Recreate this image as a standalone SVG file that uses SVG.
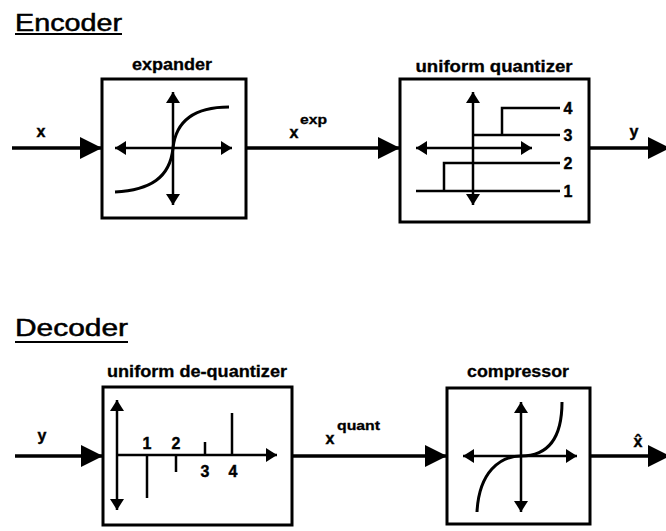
<svg xmlns="http://www.w3.org/2000/svg" width="666" height="531" viewBox="0 0 666 531">
<style>
.box{fill:none;stroke:#000;stroke-width:3}
.conn{fill:none;stroke:#000;stroke-width:3.5}
.ax{fill:none;stroke:#000;stroke-width:2.5}
.cv{fill:none;stroke:#000;stroke-width:3}
.lbl{font-family:"Liberation Sans",Arial,sans-serif;font-weight:bold;font-size:16px;text-anchor:middle;stroke:#000;stroke-width:0.3}
.sym{font-family:"Liberation Sans",Arial,sans-serif;font-weight:bold;font-size:16px;text-anchor:middle;stroke:#000;stroke-width:0.4}
.sup{font-family:"Liberation Sans",Arial,sans-serif;font-weight:bold;font-size:13px;stroke:#000;stroke-width:0.3}
.title{font-family:"Liberation Sans",Arial,sans-serif;font-size:23px;stroke:#000;stroke-width:0.5}
</style>
<defs>
<marker id="big" viewBox="0 0 22 22" refX="22" refY="11" markerWidth="22" markerHeight="22" markerUnits="userSpaceOnUse" orient="auto"><path d="M0,0 L22,11 L0,22 z" fill="#000"/></marker>
<marker id="sm" viewBox="0 0 11 14" refX="11" refY="7" markerWidth="11" markerHeight="14" markerUnits="userSpaceOnUse" orient="auto-start-reverse"><path d="M0,0 L11,7 L0,14 z" fill="#000"/></marker>
</defs>
<rect width="666" height="531" fill="#fff"/>

<g id="encoder-title">
<text class="title" x="15" y="31" textLength="107" lengthAdjust="spacingAndGlyphs">Encoder</text>
<line x1="15" y1="34" x2="122" y2="34" stroke="#000" stroke-width="2"/>
</g>

<g id="expander">
<text class="lbl" x="172" y="70" textLength="80" lengthAdjust="spacingAndGlyphs">expander</text>
<rect class="box" x="102" y="79" width="144" height="139"/>
<line class="ax" x1="173" y1="92" x2="173" y2="205" marker-start="url(#sm)" marker-end="url(#sm)"/>
<line class="ax" x1="115" y1="148" x2="232" y2="148" marker-start="url(#sm)" marker-end="url(#sm)"/>
<path class="cv" d="M115,192 C150,190 170,178 173,148 C176,120 196,107 229,107"/>
</g>

<g id="uniform-quantizer">
<text class="lbl" x="494" y="72" textLength="157" lengthAdjust="spacingAndGlyphs">uniform quantizer</text>
<rect class="box" x="400" y="79" width="189" height="143"/>
<line class="ax" x1="473" y1="92" x2="473" y2="205" marker-start="url(#sm)" marker-end="url(#sm)"/>
<line class="ax" x1="416" y1="148" x2="532" y2="148" marker-start="url(#sm)" marker-end="url(#sm)"/>
<path class="ax" d="M416,191 L560,191 M444,191 L444,163 L560,163 M473,135 L560,135 M502,135 L502,108 L560,108"/>
<text class="sym" x="568" y="197">1</text>
<text class="sym" x="568" y="169">2</text>
<text class="sym" x="568" y="141">3</text>
<text class="sym" x="568" y="114">4</text>
</g>

<g id="decoder-title">
<text class="title" x="15" y="336" textLength="113" lengthAdjust="spacingAndGlyphs">Decoder</text>
<line x1="15" y1="342" x2="128" y2="342" stroke="#000" stroke-width="2"/>
</g>

<g id="uniform-dequantizer">
<text class="lbl" x="197" y="377" textLength="180" lengthAdjust="spacingAndGlyphs">uniform de-quantizer</text>
<rect class="box" x="103" y="387" width="189" height="138"/>
<line class="ax" x1="117" y1="400" x2="117" y2="510" marker-start="url(#sm)" marker-end="url(#sm)"/>
<line class="ax" x1="117" y1="455" x2="277" y2="455" marker-end="url(#sm)"/>
<path class="ax" d="M147,455 L147,498 M176,455 L176,472 M205,455 L205,442 M232,455 L232,413"/>
<text class="sym" x="147" y="449">1</text>
<text class="sym" x="176" y="449">2</text>
<text class="sym" x="205" y="477">3</text>
<text class="sym" x="233" y="477">4</text>
</g>

<g id="compressor">
<text class="lbl" x="518" y="377" textLength="102" lengthAdjust="spacingAndGlyphs">compressor</text>
<rect class="box" x="447" y="388" width="143" height="136"/>
<line class="ax" x1="521" y1="402" x2="521" y2="512" marker-start="url(#sm)" marker-end="url(#sm)"/>
<line class="ax" x1="463" y1="456" x2="577" y2="456" marker-start="url(#sm)" marker-end="url(#sm)"/>
<path class="cv" d="M477,512 C479,472 500,456 521,456 C542,456 562,445 562,402"/>
</g>

<g id="connectors">
<line class="conn" x1="12" y1="148" x2="102" y2="148" marker-end="url(#big)"/>
<line class="conn" x1="246" y1="148" x2="400" y2="148" marker-end="url(#big)"/>
<line class="conn" x1="589" y1="148" x2="670" y2="148" marker-end="url(#big)"/>
<line class="conn" x1="15" y1="456" x2="103" y2="456" marker-end="url(#big)"/>
<line class="conn" x1="292" y1="456" x2="447" y2="456" marker-end="url(#big)"/>
<line class="conn" x1="590" y1="456" x2="670" y2="456" marker-end="url(#big)"/>
<text class="sym" x="41" y="137">x</text>
<text class="sym" x="294" y="138">x</text>
<text class="sup" x="300" y="124" textLength="27" lengthAdjust="spacingAndGlyphs">exp</text>
<text class="sym" x="634" y="137">y</text>
<text class="sym" x="42" y="441">y</text>
<text class="sym" x="330" y="444">x</text>
<text class="sup" x="337" y="430" textLength="43" lengthAdjust="spacingAndGlyphs">quant</text>
<text class="sym" x="638" y="447">x̂</text>
</g>
</svg>
